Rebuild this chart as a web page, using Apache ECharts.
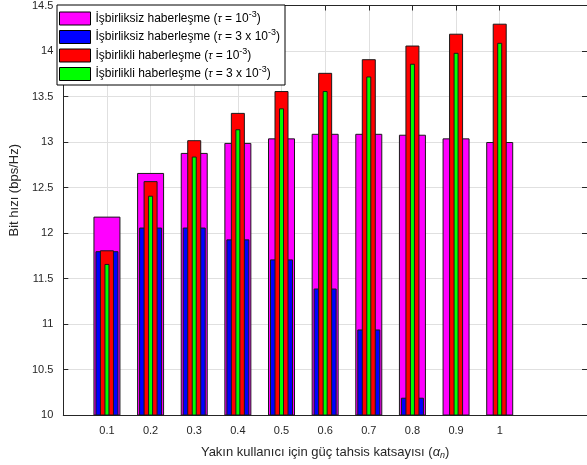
<!DOCTYPE html>
<html>
<head>
<meta charset="utf-8">
<script src="https://cdn.jsdelivr.net/npm/echarts@6/dist/echarts.min.js"></script>
<style>
  html, body { margin: 0; padding: 0; background: #ffffff; }
  #chart { width: 587px; height: 465px; }
</style>
</head>
<body>
<div id="chart"></div>
<script>
// Power allocation coefficient of the near user (x positions of the bar groups)
const alphaValues = [0.1, 0.2, 0.3, 0.4, 0.5, 0.6, 0.7, 0.8, 0.9, 1.0];

// Bit rate (bps/Hz) per scheme
const nonCoopTau1 = [12.18, 12.66, 12.88, 12.99, 13.04, 13.09, 13.09, 13.08, 13.04, 13.00];
const nonCoopTau3 = [11.80, 12.06, 12.06, 11.93, 11.71, 11.39, 10.94, 10.19, 9.10, 7.40];
const coopTau1    = [11.81, 12.57, 13.02, 13.32, 13.56, 13.76, 13.91, 14.06, 14.19, 14.30];
const coopTau3    = [11.66, 12.41, 12.84, 13.14, 13.37, 13.56, 13.72, 13.86, 13.98, 14.09];

// Legend entries (rich-text markup for the tau symbol and the exponent)
const seriesNames = ['nonCoopTau1', 'nonCoopTau3', 'coopTau1', 'coopTau3'];
const legendLabels = [
  '{t|İşbirliksiz haberleşme (}{g|τ}{t| = 10}{sup|-3}{t|)}',
  '{t|İşbirliksiz haberleşme (}{g|τ}{t| = 3 x 10}{sup|-3}{t|)}',
  '{t|İşbirlikli haberleşme (}{g|τ}{t| = 10}{sup|-3}{t|)}',
  '{t|İşbirlikli haberleşme (}{g|τ}{t| = 3 x 10}{sup|-3}{t|)}'
];

const FONT = '"Liberation Sans", Arial, Helvetica, sans-serif';
const TEXT_DARK = '#262626';
const GRID_GRAY = '#e0e0e0';

const chart = echarts.init(document.getElementById('chart'), null, { renderer: 'canvas' });

const xRange = { min: 0, max: 1.2, interval: 0.1 };
// grid lines only at the labelled positions (0 .. 1.0), none at 1.1 / 1.2
const xSplitColors = [];
for (let i = 0; i < 13; i++) xSplitColors.push(i <= 10 ? GRID_GRAY : 'rgba(0,0,0,0)');

function hiddenX() {
  return Object.assign({ type: 'value', show: false, gridIndex: 0 }, xRange);
}

const option = {
  animation: false,
  backgroundColor: '#ffffff',
  textStyle: { fontFamily: FONT },
  grid: { left: 57, top: 5, width: 535, height: 410, containLabel: false },
  legend: {
    orient: 'vertical',
    left: 57,
    top: 5,
    data: seriesNames,
    itemWidth: 31,
    itemHeight: 13,
    itemGap: 3,
    padding: [5, 5, 4, 2],
    backgroundColor: '#ffffff',
    borderColor: '#000000',
    borderWidth: 1,
    borderRadius: 0,
    icon: 'rect',
    itemStyle: { borderColor: '#000000', borderWidth: 1 },
    selectedMode: false,
    formatter: function (name) {
      return legendLabels[seriesNames.indexOf(name)];
    },
    textStyle: {
      fontFamily: FONT,
      color: '#000000',
      rich: {
        t: { fontSize: 12, fontFamily: FONT, color: '#000000' },
        g: { fontSize: 11, fontFamily: FONT, fontStyle: 'italic', color: '#000000' },
        sup: { fontSize: 9, fontFamily: FONT, color: '#000000', padding: [0, 0, 8, 0] }
      }
    }
  },
  xAxis: [
    Object.assign({
      type: 'value',
      position: 'bottom',
      gridIndex: 0,
      name: '{t|Yakın kullanıcı için güç tahsis katsayısı (}{a|α}{s|n}{t|)}',
      nameLocation: 'middle',
      nameGap: 29,
      nameTextStyle: {
        fontFamily: FONT,
        rich: {
          t: { fontSize: 13, fontFamily: FONT, color: TEXT_DARK },
          a: { fontSize: 13, fontFamily: FONT, fontStyle: 'italic', color: TEXT_DARK },
          s: { fontSize: 9, fontFamily: FONT, fontStyle: 'italic', color: TEXT_DARK, padding: [7, 0, 0, 0] }
        }
      },
      axisLine: { show: true, onZero: false, lineStyle: { color: TEXT_DARK, width: 1 } },
      axisTick: { show: true, inside: true, length: 5, customValues: alphaValues, lineStyle: { color: TEXT_DARK } },
      axisLabel: {
        show: true,
        customValues: alphaValues,
        margin: 10,
        fontSize: 11,
        fontFamily: FONT,
        color: TEXT_DARK,
        formatter: function (v) {
          if (v < 0.05 || v > 1.05) return '';
          return String(Math.round(v * 10) / 10);
        }
      },
      splitLine: { show: true, showMinLine: true, showMaxLine: true, lineStyle: { color: xSplitColors, width: 1 } }
    }, xRange),
    Object.assign({
      type: 'value',
      position: 'top',
      gridIndex: 0,
      axisLine: { show: true, onZero: false, lineStyle: { color: TEXT_DARK, width: 1 } },
      axisTick: { show: true, inside: true, length: 5, customValues: alphaValues, lineStyle: { color: TEXT_DARK } },
      axisLabel: { show: false },
      splitLine: { show: false }
    }, xRange),
    hiddenX(),
    hiddenX()
  ],
  yAxis: [
    {
      type: 'value',
      position: 'left',
      min: 10,
      max: 14.5,
      interval: 0.5,
      name: 'Bit hızı (bps/Hz)',
      nameLocation: 'middle',
      nameGap: 38,
      nameTextStyle: { fontSize: 13, fontFamily: FONT, color: TEXT_DARK, padding: [0, 0, 0, 40] },
      axisLine: { show: true, onZero: false, lineStyle: { color: TEXT_DARK, width: 1 } },
      axisTick: { show: true, inside: true, length: 5, lineStyle: { color: TEXT_DARK } },
      axisLabel: { margin: 10, fontSize: 11, fontFamily: FONT, color: TEXT_DARK },
      splitLine: { show: true, lineStyle: { color: GRID_GRAY, width: 1 } }
    },
    {
      type: 'value',
      position: 'right',
      min: 10,
      max: 14.5,
      interval: 0.5,
      axisLine: { show: true, onZero: false, lineStyle: { color: TEXT_DARK, width: 1 } },
      axisTick: { show: true, inside: true, length: 5, lineStyle: { color: TEXT_DARK } },
      axisLabel: { show: false },
      splitLine: { show: false }
    }
  ],
  series: [
    {
      name: seriesNames[0], type: 'bar', xAxisIndex: 0, yAxisIndex: 0, clip: true,
      barWidth: 27,
      itemStyle: { color: '#ff00ff', borderColor: '#1a1a1a', borderWidth: 1 },
      data: alphaValues.map((a, i) => [a, nonCoopTau1[i]])
    },
    {
      name: seriesNames[1], type: 'bar', xAxisIndex: 1, yAxisIndex: 0, clip: true,
      barWidth: 23,
      itemStyle: { color: '#0000ff', borderColor: '#1a1a1a', borderWidth: 1 },
      data: alphaValues.map((a, i) => [a, nonCoopTau3[i]])
    },
    {
      name: seriesNames[2], type: 'bar', xAxisIndex: 2, yAxisIndex: 0, clip: true,
      barWidth: 14,
      itemStyle: { color: '#ff0000', borderColor: '#1a1a1a', borderWidth: 1 },
      data: alphaValues.map((a, i) => [a, coopTau1[i]])
    },
    {
      name: seriesNames[3], type: 'bar', xAxisIndex: 3, yAxisIndex: 0, clip: true,
      barWidth: 5,
      itemStyle: { color: '#00ff00', borderColor: '#1a1a1a', borderWidth: 1 },
      data: alphaValues.map((a, i) => [a, coopTau3[i]])
    }
  ]
};

chart.setOption(option);
</script>
</body>
</html>
